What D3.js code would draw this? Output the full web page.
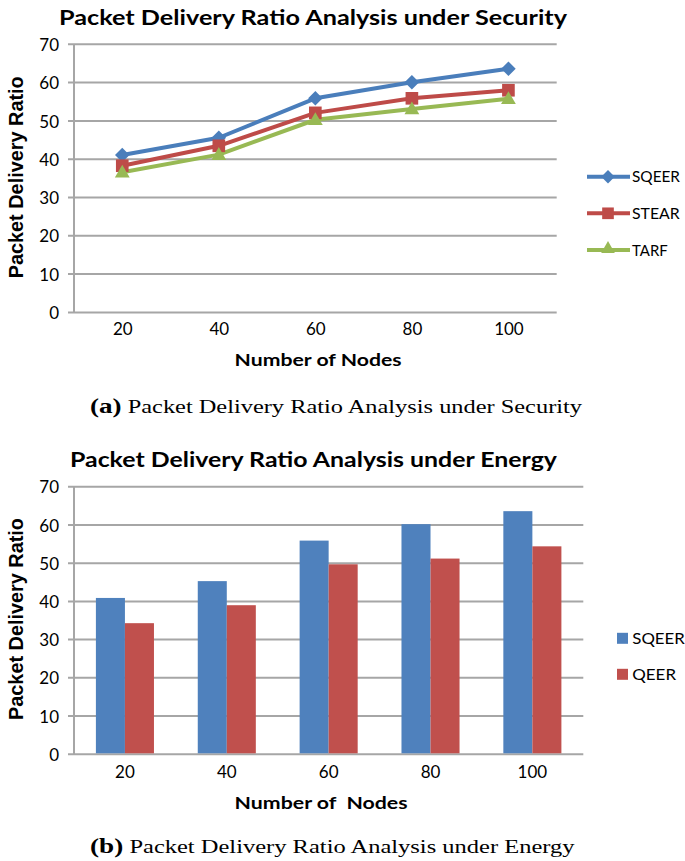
<!DOCTYPE html>
<html>
<head>
<meta charset="utf-8">
<script src="https://cdn.jsdelivr.net/npm/d3@7"></script>
<style>
  html, body { margin: 0; padding: 0; background: #fff; }
  svg { display: block; }
</style>
</head>
<body>
<script>
// ---------- data ----------
const nodes = [20, 40, 60, 80, 100];
const yTicks = [0, 10, 20, 30, 40, 50, 60, 70];

// (a) security – line chart
const secSeriesNames = ["SQEER", "STEAR", "TARF"];
const secSQEER = [41.1, 45.6, 55.9, 60.1, 63.6];
const secSTEAR = [38.3, 43.5, 52.1, 55.9, 58.0];
const secTARF  = [36.6, 41.2, 50.3, 53.1, 55.8];

// (b) energy – bar chart
const enSeriesNames = ["SQEER", "QEER"];
const enSQEER = [40.9, 45.3, 55.9, 60.2, 63.6];
const enQEER  = [34.3, 39.0, 49.7, 51.2, 54.4];

const titleA = "Packet Delivery Ratio Analysis  under Security";
const titleB = "Packet Delivery Ratio Analysis under Energy";
const yTitle = "Packet Delivery Ratio";
const xTitleA = "Number of Nodes";
const xTitleB = "Number of  Nodes";
const capA = ["(a)", " Packet Delivery Ratio Analysis under Security"];
const capB = ["(b)", " Packet Delivery Ratio Analysis under Energy"];

// ---------- setup ----------
const W = 685, H = 861;
const svg = d3.select("body").append("svg").attr("width", W).attr("height", H);
const FONT = "Lato, 'Open Sans', sans-serif";
const GRID = "#a6a6a6";
const lineColors = ["#4a7ebb", "#be4b48", "#98b954"];
const barColors = ["#4f81bd", "#c0504d"];

const diamond = {
  draw(ctx, size) {
    const r = Math.sqrt(size / 2);
    ctx.moveTo(0, -r); ctx.lineTo(r, 0); ctx.lineTo(0, r); ctx.lineTo(-r, 0); ctx.closePath();
  }
};
const symbols = [diamond, d3.symbolSquare, d3.symbolTriangle];
const symSizes = [105, 160, 95];

function fitText(sel, len) {
  sel.attr("textLength", len).attr("lengthAdjust", "spacingAndGlyphs");
}

function drawFrame(y, x0, x1, xScale, xAxisY, xLabelPad) {
  const g = svg.append("g");
  // gridlines
  g.append("g").selectAll("line").data(yTicks).join("line")
    .attr("x1", x0 - 6).attr("x2", x1)
    .attr("y1", d => y(d)).attr("y2", d => y(d))
    .attr("stroke", GRID).attr("stroke-width", 2);
  // vertical axis line
  g.append("line").attr("x1", x0).attr("x2", x0)
    .attr("y1", y(70)).attr("y2", y(0))
    .attr("stroke", GRID).attr("stroke-width", 2);
  // y tick labels
  const ya = g.append("g").attr("transform", `translate(${x0},0)`)
    .call(d3.axisLeft(y).tickValues(yTicks).tickSize(0).tickPadding(15));
  ya.select(".domain").remove();
  ya.selectAll("text").attr("font-family", FONT).attr("font-size", 17)
    .attr("fill", "#000").attr("dy", "0.36em");
  // x tick labels
  const xa = g.append("g").attr("transform", `translate(0,${xAxisY})`)
    .call(d3.axisBottom(xScale).tickSize(0).tickPadding(xLabelPad));
  xa.select(".domain").remove();
  xa.selectAll("text").attr("font-family", FONT).attr("font-size", 17).attr("fill", "#000");
}

// ================= (a) line chart =================
const yA = d3.scaleLinear().domain([0, 70]).range([312.4, 44.3]);
const xA = d3.scalePoint().domain(nodes).range([74, 556.7]).padding(0.5);

svg.append("text").text(titleA).attr("x", 59).attr("y", 25)
  .attr("font-family", FONT).attr("font-weight", "bold").attr("font-size", 21)
  .call(fitText, 508);

drawFrame(yA, 74, 556.7, xA, yA(0), 11);

const secData = [secSQEER, secSTEAR, secTARF];
const lineGen = d3.line().x((d, i) => xA(nodes[i])).y(d => yA(d));
secData.forEach((vals, si) => {
  svg.append("path").datum(vals)
    .attr("d", lineGen).attr("fill", "none")
    .attr("stroke", lineColors[si]).attr("stroke-width", 4)
    .attr("stroke-linejoin", "round").attr("stroke-linecap", "round");
});
secData.forEach((vals, si) => {
  svg.append("g").selectAll("path").data(vals).join("path")
    .attr("transform", (d, i) => `translate(${xA(nodes[i])},${yA(d) + (si === 2 ? 1 : 0)})`)
    .attr("d", d3.symbol().type(symbols[si]).size(symSizes[si]))
    .attr("fill", lineColors[si]);
});

// legend (a)
const legA = svg.append("g");
const legAy = [176.7, 213.3, 250];
secSeriesNames.forEach((name, si) => {
  const ly = legAy[si];
  legA.append("line").attr("x1", 587).attr("x2", 630).attr("y1", ly).attr("y2", ly)
    .attr("stroke", lineColors[si]).attr("stroke-width", 4);
  legA.append("path").attr("transform", `translate(608,${ly - (si === 2 ? 1 : 0)})`)
    .attr("d", d3.symbol().type(symbols[si]).size(symSizes[si] * 0.85))
    .attr("fill", lineColors[si]);
  legA.append("text").text(name).attr("x", 632).attr("y", ly + 5.5)
    .attr("font-family", FONT).attr("font-size", 15.5)
    .call(fitText, [48, 47.7, 35.7][si]);
});

// axis titles (a)
svg.append("text").text(xTitleA).attr("x", 234.6).attr("y", 365.7)
  .attr("font-family", FONT).attr("font-weight", "bold").attr("font-size", 17)
  .call(fitText, 167);
svg.append("text").text(yTitle)
  .attr("transform", "translate(23,278.3) rotate(-90)")
  .attr("font-family", "'Liberation Sans', Arial, sans-serif").attr("font-weight", "bold").attr("font-size", 20)
  .call(fitText, 202);

// caption (a)
const cA = svg.append("text").attr("x", 90).attr("y", 412.7)
  .attr("font-family", "'Liberation Serif', 'Times New Roman', serif").attr("font-size", 18);
cA.append("tspan").text(capA[0]).attr("font-weight", "bold").attr("font-size", 20);
cA.append("tspan").text(capA[1]);
cA.call(fitText, 492);

// ================= (b) bar chart =================
const yB = d3.scaleLinear().domain([0, 70]).range([754.3, 486.7]);
const xB = d3.scaleBand().domain(nodes).range([74, 583.3]).paddingInner(0.43).paddingOuter(0.215);
const xSub = d3.scaleBand().domain(enSeriesNames).range([0, xB.bandwidth()]);

svg.append("text").text(titleB).attr("x", 70).attr("y", 466.7)
  .attr("font-family", FONT).attr("font-weight", "bold").attr("font-size", 21)
  .call(fitText, 487);

drawFrame(yB, 74, 583.3, xB, yB(0), 12);

const enData = [enSQEER, enQEER];
enData.forEach((vals, si) => {
  svg.append("g").selectAll("rect").data(vals).join("rect")
    .attr("x", (d, i) => xB(nodes[i]) + xSub(enSeriesNames[si]))
    .attr("width", xSub.bandwidth())
    .attr("y", d => yB(d))
    .attr("height", d => yB(0) - yB(d) - 1)
    .attr("fill", barColors[si]);
});

// legend (b)
const legBy = [638.3, 674.3];
enSeriesNames.forEach((name, si) => {
  const ly = legBy[si];
  svg.append("rect").attr("x", 617).attr("y", ly - 5.5).attr("width", 11).attr("height", 11)
    .attr("fill", barColors[si]);
  svg.append("text").text(name).attr("x", 632.3).attr("y", ly + 5.6)
    .attr("font-family", FONT).attr("font-size", 16)
    .call(fitText, [52.5, 43.7][si]);
});

// axis titles (b)
svg.append("text").text(xTitleB).attr("x", 234.6).attr("y", 809)
  .attr("font-family", FONT).attr("font-weight", "bold").attr("font-size", 17)
  .attr("xml:space", "preserve").style("white-space", "pre")
  .call(fitText, 173);
svg.append("text").text(yTitle)
  .attr("transform", "translate(23,720) rotate(-90)")
  .attr("font-family", "'Liberation Sans', Arial, sans-serif").attr("font-weight", "bold").attr("font-size", 20)
  .call(fitText, 202);

// caption (b)
const cB = svg.append("text").attr("x", 90).attr("y", 853)
  .attr("font-family", "'Liberation Serif', 'Times New Roman', serif").attr("font-size", 18);
cB.append("tspan").text(capB[0]).attr("font-weight", "bold").attr("font-size", 20);
cB.append("tspan").text(capB[1]);
cB.call(fitText, 484.5);
</script>
</body>
</html>
